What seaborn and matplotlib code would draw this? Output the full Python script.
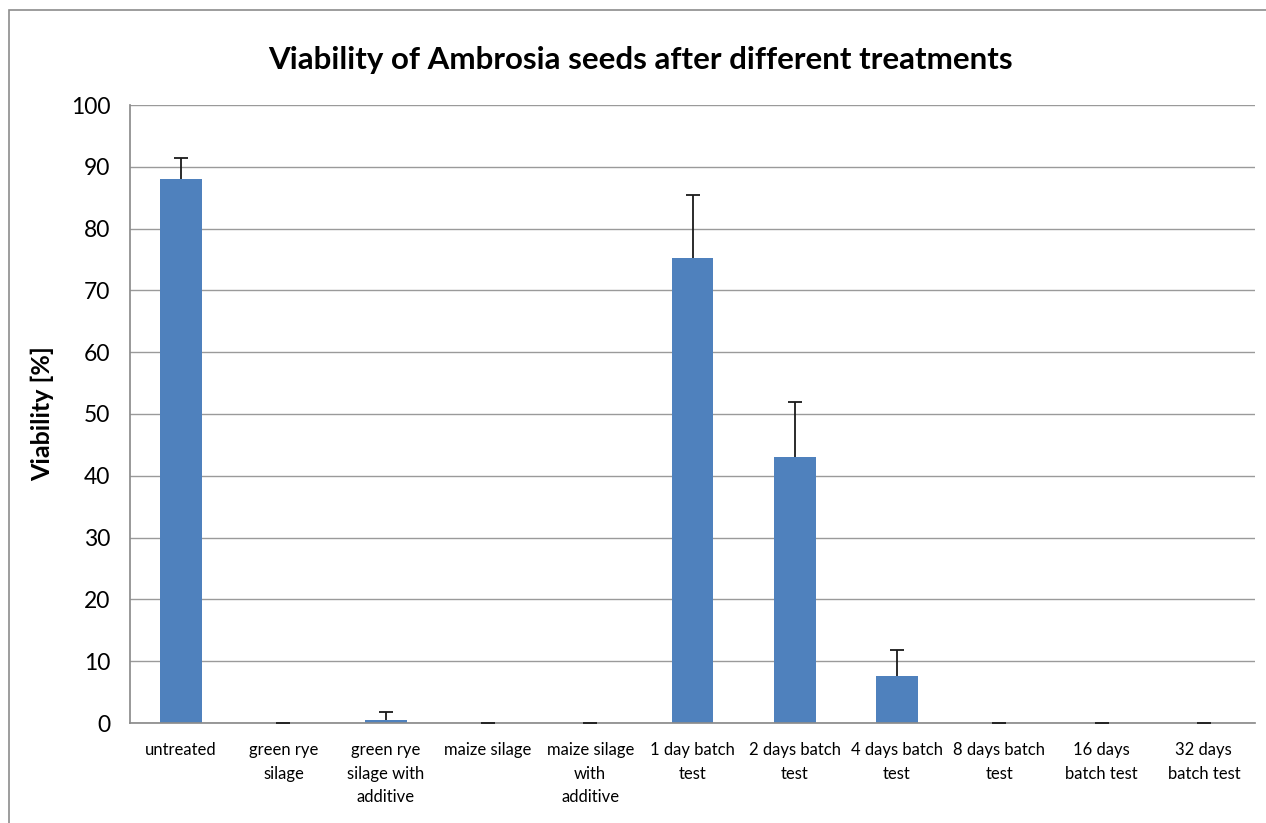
import matplotlib
matplotlib.use("Agg")
import matplotlib.pyplot as plt
import matplotlib.patches as mpatches
import seaborn as sns
import pandas as pd
import numpy as np

categories = [
    "untreated", "green rye\nsilage", "green rye\nsilage with\nadditive",
    "maize silage", "maize silage\nwith\nadditive", "1 day batch\ntest",
    "2 days batch\ntest", "4 days batch\ntest", "8 days batch\ntest",
    "16 days\nbatch test", "32 days\nbatch test",
]
viability = [88.0, 0.0, 0.5, 0.0, 0.0, 75.2, 43.0, 7.6, 0.0, 0.0, 0.0]
std_dev = [3.4, 0.0, 1.3, 0.0, 0.0, 10.2, 8.9, 4.2, 0.0, 0.0, 0.0]

sns.set_theme(style="white")
plt.rcParams["font.family"] = ["Lato", "DejaVu Sans"]
plt.rcParams["text.color"] = "black"
plt.rcParams["xtick.color"] = "black"
plt.rcParams["ytick.color"] = "black"
plt.rcParams["axes.labelcolor"] = "black"

df = pd.DataFrame({"treatment": categories, "viability": viability})

fig = plt.figure(figsize=(12.66, 8.23), dpi=100)
ax = fig.add_axes([130 / 1266, 1 - 723 / 823, (1255 - 130) / 1266, (723 - 105) / 823])

sns.barplot(data=df, x="treatment", y="viability", color="#4F81BD",
            width=0.41, saturation=1, ax=ax, errorbar=None, linewidth=0)
x = np.arange(len(categories))
_, caps, _ = ax.errorbar(x, viability, yerr=[np.zeros(len(std_dev)), std_dev], fmt="none",
                         ecolor="#1a1a1a", elinewidth=1.3, capsize=5, capthick=1.3, zorder=3)
# only the upper cap is shown
caps[0].set_visible(False)

ax.set_ylim(0, 100)
ax.set_xlim(-0.5, len(categories) - 0.5)
ax.set_yticks(range(0, 101, 10))
ax.yaxis.grid(True, color="#9a9a9a", linewidth=1)
ax.set_axisbelow(True)
for s in ["top", "right"]:
    ax.spines[s].set_visible(False)
ax.spines["left"].set_color("#8c8c8c")
ax.spines["bottom"].set_color("#8c8c8c")
ax.tick_params(axis="y", labelsize=16.5, pad=14, length=0)
ax.tick_params(axis="x", labelsize=12, length=0, pad=14)
for lbl in ax.get_xticklabels():
    lbl.set_linespacing(1.55)
ax.set_xlabel("")
ax.set_ylabel("Viability [%]", fontsize=18, fontweight="bold", labelpad=12)

fig.text(640 / 1266, 1 - 60 / 823, "Viability of Ambrosia seeds after different treatments",
         ha="center", va="center", fontsize=22.5, fontweight="bold")

# chart frame
fig.patches.append(mpatches.Rectangle((9 / 1266, -0.1), 1.2, 1 - 10 / 823 + 0.1,
                                      transform=fig.transFigure, fill=False,
                                      edgecolor="#8c8c8c", linewidth=1.2))

fig.savefig("out.png", dpi=100)
